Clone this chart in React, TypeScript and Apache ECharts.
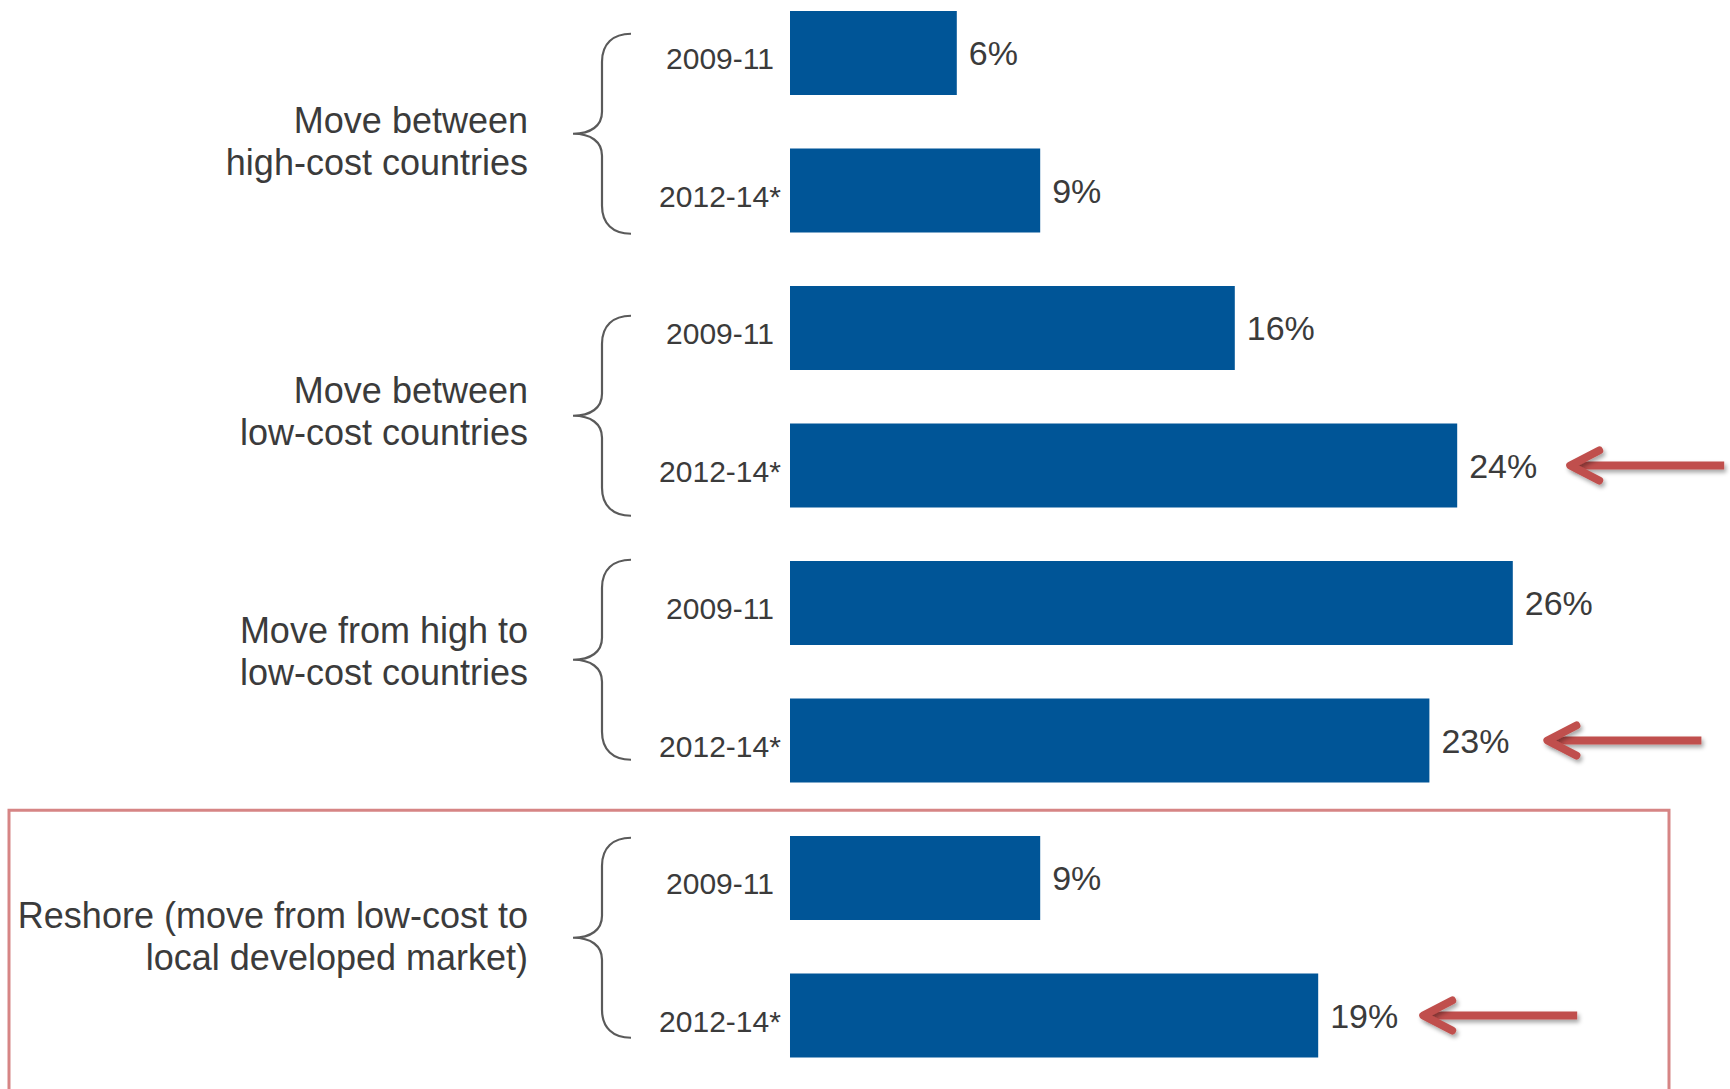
import React, { useEffect, useRef } from "react";
import * as echarts from "echarts";

// ---------- data ----------
const groups = [
  "Move between\nhigh-cost countries",
  "Move between\nlow-cost countries",
  "Move from high to\nlow-cost countries",
  "Reshore (move from low-cost to\nlocal developed market)",
];
const periods = ["2009-11", "2012-14*"];
const values2009_11 = [6, 16, 26, 9];
const values2012_14 = [9, 24, 23, 19];
const arrowed = [false, true, true, true]; // red arrows next to 2012-14* bars
const boxedGroup = 3; // group framed by the red box

// ---------- layout (not data) ----------
const braceOffsets = [12, 19, -12, -9];
const labelOffsets = [20, 15, -20, -10];
const arrowGaps = [0, 109, 114, 101];

const BAR_COLOR = "#005597";
const TEXT_COLOR = "#3b3b3b";
const RED = "#c0504d";

const BRACE_D =
  "M58,0 C40,0 29,10 29,28 L29,78 C29,92 18,100 0,100 C18,100 29,108 29,122 L29,172 C29,190 40,200 58,200";

let braceRegistered = false;

function hasFont(name: string): boolean {
  const ctx = document.createElement("canvas").getContext("2d");
  if (!ctx) return false;
  const s = "2009-11 2012-14* abcdefghij";
  ctx.font = "40px monospace";
  const w0 = ctx.measureText(s).width;
  ctx.font = `40px '${name}', monospace`;
  const w1 = ctx.measureText(s).width;
  return Math.abs(w0 - w1) > 0.5;
}

type Row = { key: string; period: string; value: number; gi: number; pi: number };

const rows: Row[] = groups.flatMap((g, gi) =>
  periods.map((p, pi) => ({
    key: `${gi}|${p}`,
    period: p,
    value: pi === 0 ? values2009_11[gi] : values2012_14[gi],
    gi,
    pi,
  }))
);

export default function App() {
  const ref = useRef<HTMLDivElement>(null);

  useEffect(() => {
    if (!ref.current) return;
    if (!braceRegistered) {
      echarts.graphic.registerShape("brace", echarts.graphic.extendPath(BRACE_D, {}) as any);
      braceRegistered = true;
    }
    const narrow = hasFont("Liberation Sans Narrow");
    const numFont = narrow ? "'Liberation Sans Narrow', 'Liberation Sans', sans-serif" : "'Liberation Sans', sans-serif";
    const catSize = narrow ? 36 : 30;
    const valSize = narrow ? 40 : 34;

    const chart = echarts.init(ref.current, undefined, { renderer: "svg" });
    chart.setOption({
      animation: false,
      backgroundColor: "#ffffff",
      grid: { left: 790, right: 106, top: 53, bottom: 73.5, containLabel: false, outerBoundsMode: "none" },
      xAxis: { type: "value", min: 0, max: 30, show: false },
      yAxis: {
        type: "category",
        inverse: true,
        boundaryGap: false,
        data: rows.map((r) => r.key),
        axisLine: { show: false },
        axisTick: { show: false },
        splitLine: { show: false },
        axisLabel: {
          formatter: (v: string) => v.split("|")[1],
          align: "center",
          verticalAlign: "top",
          lineHeight: 11,
          margin: 70,
          fontSize: catSize,
          fontFamily: numFont,
          color: TEXT_COLOR,
        },
      },
      series: [
        {
          type: "bar",
          data: rows.map((r) => r.value),
          barWidth: 84,
          itemStyle: { color: BAR_COLOR },
          label: {
            show: true,
            position: "right",
            distance: 12,
            formatter: "{c}%",
            fontSize: valSize,
            fontFamily: numFont,
            color: TEXT_COLOR,
          },
        },
      ],
    });

    const px = (v: number, idx: number) => chart.convertToPixel({ gridIndex: 0 }, [v, idx]) as number[];
    const x0 = px(0, 0)[0];
    const graphics: any[] = [];

    groups.forEach((g, gi) => {
      const ya = px(0, gi * 2)[1];
      const yb = px(0, gi * 2 + 1)[1];
      const yc = (ya + yb) / 2;
      graphics.push({
        type: "brace",
        x: x0 - 217,
        y: yc + braceOffsets[gi] - 100,
        style: { stroke: "#5a5a5a", fill: "none", lineWidth: 2.2 },
        silent: true,
      });
      graphics.push({
        type: "text",
        x: x0 - 262,
        y: yc + labelOffsets[gi],
        style: {
          text: g,
          align: "right",
          verticalAlign: "middle",
          fontSize: 36,
          lineHeight: 42,
          fontFamily: "'Liberation Sans', sans-serif",
          fill: TEXT_COLOR,
        },
        silent: true,
      });
      if (arrowed[gi]) {
        const [bx, by] = px(values2012_14[gi], gi * 2 + 1);
        const tip = bx + arrowGaps[gi] + 4;
        const shadow = { shadowBlur: 4, shadowOffsetX: 2, shadowOffsetY: 3, shadowColor: "rgba(0,0,0,0.35)" };
        graphics.push({
          type: "rect",
          shape: { x: tip + 2, y: by - 4, width: 152, height: 8 },
          style: { fill: RED, ...shadow },
          silent: true,
        });
        graphics.push({
          type: "polyline",
          shape: { points: [[tip + 29, by - 15], [tip, by], [tip + 29, by + 15]] },
          style: { stroke: RED, fill: "none", lineWidth: 8, lineCap: "round", lineJoin: "round", ...shadow },
          silent: true,
        });
      }
    });

    // red frame around the highlighted group
    const yPrev = px(0, boxedGroup * 2 - 1)[1];
    const yFirst = px(0, boxedGroup * 2)[1];
    const boxTop = (yPrev + yFirst) / 2 + 1;
    graphics.push({
      type: "rect",
      shape: { x: 9, y: boxTop, width: 1660, height: 400 },
      style: { stroke: "#d68585", fill: "none", lineWidth: 3 },
      silent: true,
      z: -1,
    });

    chart.setOption({ graphic: graphics });
    return () => chart.dispose();
  }, []);

  return (
    <div
      ref={ref}
      style={{ position: "fixed", left: 0, top: 0, width: 1730, height: 1089, background: "#fff" }}
    />
  );
}
